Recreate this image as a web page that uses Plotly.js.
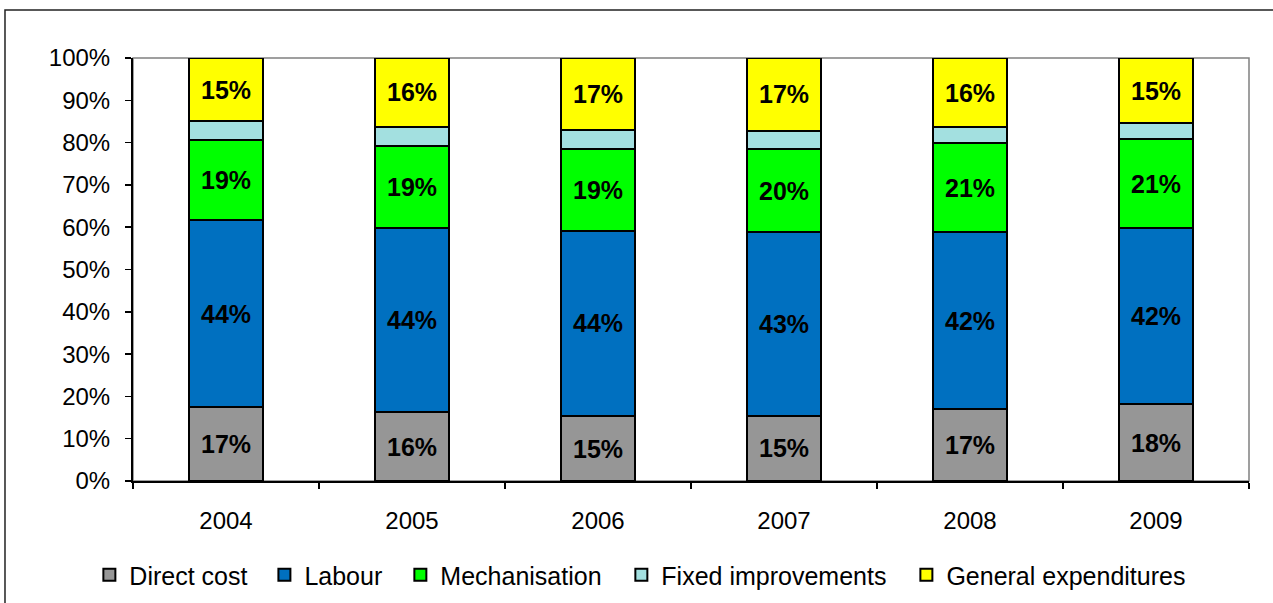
<!DOCTYPE html>
<html>
<head>
<meta charset="utf-8">
<script src="https://cdn.plot.ly/plotly-3.0.1.min.js"></script>
<style>
  html, body { margin: 0; padding: 0; background: #ffffff; }
  #chart { width: 1273px; height: 603px; }
</style>
</head>
<body>
<div id="chart"></div>
<script>
// Cost structure by year, shares of total cost (%)
const years = ['2004', '2005', '2006', '2007', '2008', '2009'];

const directCost       = [17.4, 16.3, 15.3, 15.4, 17.0, 18.1];
const labour           = [44.2, 43.6, 43.9, 43.4, 41.8, 41.7];
const mechanisation    = [18.9, 19.2, 19.3, 19.7, 21.1, 21.0];
const fixedImprovement = [4.5, 4.7, 4.5, 4.3, 3.7, 3.8];
const generalExpenses  = [15.0, 16.2, 17.0, 17.2, 16.4, 15.4];

const yTickValues = [0, 10, 20, 30, 40, 50, 60, 70, 80, 90, 100];
const yTickLabels = ['0%', '10%', '20%', '30%', '40%', '50%', '60%', '70%', '80%', '90%', '100%'];

const FONT = 'Liberation Sans, Arial, sans-serif';

// Each series gets its own legend box (container coordinates) so the entries can be spaced freely
const legendX = [0.0702, 0.2077, 0.3145, 0.4881, 0.7120];

function seriesTrace(name, values, color, showLabels, legendId) {
  return {
    type: 'bar',
    name: name,
    x: years,
    y: values,
    legend: legendId,
    marker: { color: color, line: { color: '#000000', width: 2 } },
    texttemplate: showLabels ? '%{y:.0f}%' : '',
    textposition: showLabels ? 'inside' : 'none',
    insidetextanchor: 'middle',
    textangle: 0,
    constraintext: 'none',
    textfont: { family: FONT, size: 25, color: '#000000', weight: 'bold' },
    hoverinfo: 'name+y'
  };
}

const data = [
  seriesTrace('Direct cost', directCost, '#969696', true, 'legend'),
  seriesTrace('Labour', labour, '#0070C0', true, 'legend2'),
  seriesTrace('Mechanisation', mechanisation, '#00FF00', true, 'legend3'),
  seriesTrace('Fixed improvements', fixedImprovement, '#A3E0E0', false, 'legend4'),
  seriesTrace('General expenditures', generalExpenses, '#FFFF00', true, 'legend5')
];

function legendBox(x) {
  return {
    orientation: 'h',
    xref: 'container',
    yref: 'container',
    x: x,
    xanchor: 'left',
    y: 0.0464,
    yanchor: 'middle',
    font: { family: FONT, size: 25, color: '#000000' },
    itemclick: false,
    itemdoubleclick: false
  };
}

const layout = {
  width: 1273,
  height: 603,
  margin: { l: 133, r: 24, t: 58, b: 121.5, autoexpand: false },
  paper_bgcolor: '#ffffff',
  plot_bgcolor: '#ffffff',
  barmode: 'stack',
  bargap: 0.6,
  showlegend: true,
  font: { family: FONT, size: 22, color: '#000000' },
  xaxis: {
    type: 'category',
    tickson: 'boundaries',
    ticks: 'outside',
    ticklen: 6,
    tickwidth: 1.5,
    tickcolor: '#000000',
    showline: true,
    linecolor: '#000000',
    linewidth: 2,
    showgrid: false,
    zeroline: false,
    tickfont: { family: FONT, size: 24, color: '#000000' },
    ticklabelstandoff: 17
  },
  yaxis: {
    range: [0, 100],
    tickmode: 'array',
    tickvals: yTickValues,
    ticktext: yTickLabels,
    ticks: 'outside',
    ticklen: 6,
    tickwidth: 1.5,
    tickcolor: '#000000',
    showline: true,
    linecolor: '#000000',
    linewidth: 2,
    showgrid: false,
    zeroline: false,
    tickfont: { family: FONT, size: 24, color: '#000000' },
    ticklabelstandoff: 10
  },
  legend: legendBox(legendX[0]),
  legend2: legendBox(legendX[1]),
  legend3: legendBox(legendX[2]),
  legend4: legendBox(legendX[3]),
  legend5: legendBox(legendX[4]),
  shapes: [
    // thin frame along the top and right of the plot area
    { type: 'rect', xref: 'paper', yref: 'paper', x0: 0, x1: 1, y0: 0, y1: 1,
      line: { color: '#808080', width: 1.5 }, layer: 'below' },
    // border around the whole chart
    { type: 'rect', xref: 'paper', yref: 'paper', x0: -0.1147, x1: 1.2, y0: -0.6, y1: 1.1133,
      line: { color: '#222222', width: 1.5 }, layer: 'below' }
  ]
};

Plotly.newPlot('chart', data, layout, { displayModeBar: false, staticPlot: true });
</script>
</body>
</html>
